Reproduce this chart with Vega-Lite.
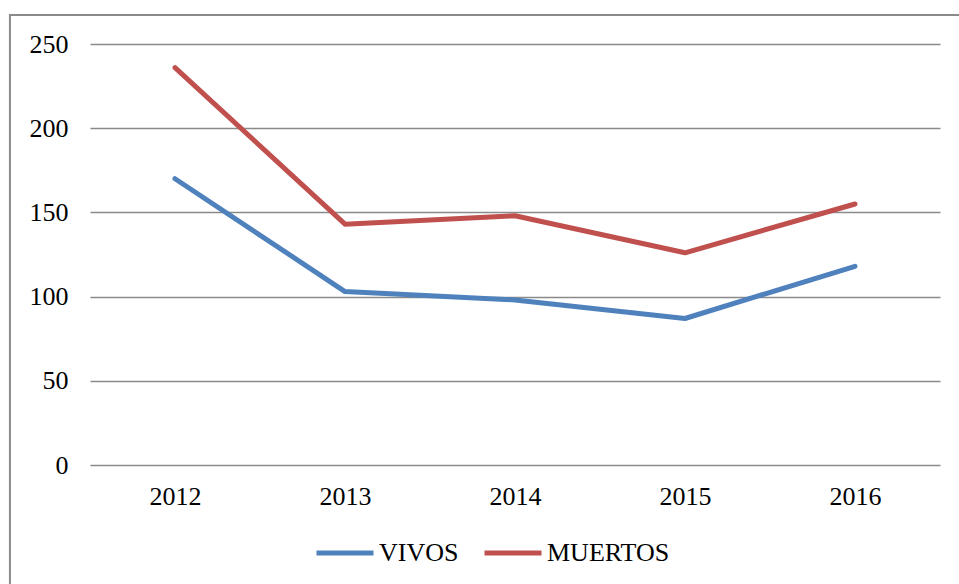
{
  "$schema": "https://vega.github.io/schema/vega-lite/v6.json",
  "autosize": {"type": "none"},
  "width": 850,
  "height": 421,
  "padding": {"left": 90, "top": 44, "right": 19, "bottom": 119},
  "background": "white",
  "config": {
    "view": {"stroke": null},
    "font": "Liberation Serif"
  },
  "layer": [
    {
      "data": {"values": [{}]},
      "mark": {"type": "rect", "fill": null, "stroke": "#8a8a8a", "strokeWidth": 2, "clip": false},
      "encoding": {
        "x": {"datum": 2011.029, "type": "quantitative"},
        "x2": {"datum": 2017.5},
        "y": {"datum": 267.2, "type": "quantitative"},
        "y2": {"datum": -100}
      }
    },
    {
      "data": {
        "values": [
          {"year": 2012, "serie": "VIVOS", "valor": 170},
          {"year": 2013, "serie": "VIVOS", "valor": 103},
          {"year": 2014, "serie": "VIVOS", "valor": 98},
          {"year": 2015, "serie": "VIVOS", "valor": 87},
          {"year": 2016, "serie": "VIVOS", "valor": 118},
          {"year": 2012, "serie": "MUERTOS", "valor": 236},
          {"year": 2013, "serie": "MUERTOS", "valor": 143},
          {"year": 2014, "serie": "MUERTOS", "valor": 148},
          {"year": 2015, "serie": "MUERTOS", "valor": 126},
          {"year": 2016, "serie": "MUERTOS", "valor": 155}
        ]
      },
      "mark": {"type": "line", "strokeWidth": 5, "strokeCap": "round", "strokeJoin": "round"},
      "encoding": {
        "x": {
          "field": "year",
          "type": "quantitative",
          "scale": {"domain": [2011.5, 2016.5], "nice": false, "zero": false},
          "axis": {
            "title": null,
            "values": [2012, 2013, 2014, 2015, 2016],
            "format": "d",
            "grid": false,
            "domain": false,
            "ticks": false,
            "labelFontSize": 26,
            "labelColor": "black",
            "labelPadding": 18,
            "labelFont": "Liberation Serif"
          }
        },
        "y": {
          "field": "valor",
          "type": "quantitative",
          "scale": {"domain": [0, 250], "nice": false},
          "axis": {
            "title": null,
            "values": [0, 50, 100, 150, 200, 250],
            "grid": true,
            "gridColor": "#8a8a8a",
            "gridWidth": 1.5,
            "gridOpacity": 1,
            "domain": false,
            "ticks": false,
            "labelFontSize": 26,
            "labelColor": "black",
            "labelPadding": 22,
            "labelFont": "Liberation Serif"
          }
        },
        "color": {
          "field": "serie",
          "type": "nominal",
          "scale": {"domain": ["VIVOS", "MUERTOS"], "range": ["#4f81bd", "#c0504d"]},
          "legend": {
            "title": null,
            "orient": "none",
            "direction": "horizontal",
            "legendX": 224,
            "legendY": 478,
            "symbolType": "stroke",
            "symbolSize": 3249,
            "symbolStrokeWidth": 5,
            "labelFontSize": 26,
            "labelColor": "black",
            "labelFont": "Liberation Serif",
            "labelOffset": 3,
            "columnPadding": 15
          }
        }
      }
    }
  ]
}
